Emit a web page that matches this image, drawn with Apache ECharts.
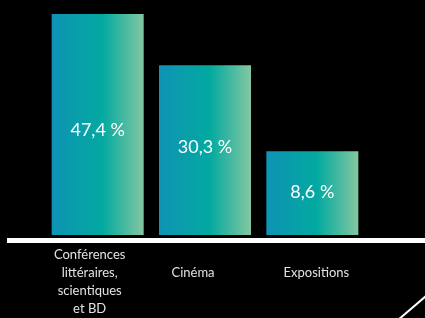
<!DOCTYPE html>
<html>
<head>
<meta charset="utf-8">
<script src="https://cdn.jsdelivr.net/npm/echarts@6/dist/echarts.min.js"></script>
<style>
html, body { margin: 0; background: #000; }
#chart { width: 425px; height: 318px; }
</style>
</head>
<body>
<div id="chart"></div>
<script>
// categories as they appear on the slide (the "fi" ligature got lost there)
var categories = ['Conférences\nlittéraires,\nscientiques\net BD', 'Cinéma', 'Expositions'];
var shares = [47.4, 30.3, 8.6];
// bar lengths as drawn, relative to the tallest bar (slide is not to scale)
var barLengths = [100, 76.8, 37.9];

var chart = echarts.init(document.getElementById('chart'));

var barColor = new echarts.graphic.LinearGradient(0, 0, 1, 0, [
  { offset: 0, color: '#0f93b5' },
  { offset: 0.55, color: '#02a9a0' },
  { offset: 1, color: '#84c7a0' }
]);

// single line labels sit on the 2nd line of the 4-line one
var catPadding = [[0, 16, 0, 0], [0, 24, 0, 0], [0, 0, 0, 8]];
var xData = categories.map(function (c, i) {
  return {
    value: c.indexOf('\n') < 0 ? '\n' + c : c,
    textStyle: { padding: catPadding[i] }
  };
});

// value labels are not exactly centred in the bars
var labelOffsets = [[0, 6], [0, -3], [0, -1]];
var barData = barLengths.map(function (v, i) {
  return { value: v, label: { offset: labelOffsets[i] } };
});

var option = {
  backgroundColor: '#000',
  animation: false,
  grid: [
    { left: 44, right: 59, top: 14, bottom: 80 },
    { left: 7, right: 0, top: 0, bottom: 78 }
  ],
  xAxis: [
    {
      type: 'category',
      gridIndex: 0,
      data: xData,
      axisLine: { show: false },
      axisTick: { show: false },
      axisLabel: {
        color: '#e2e2e2',
        fontFamily: 'Lato',
        fontSize: 13,
        lineHeight: 18,
        margin: 11,
        interval: 0
      }
    },
    {
      // the white base line running across the slide
      type: 'value',
      gridIndex: 1,
      min: 0,
      max: 1,
      axisLine: { show: true, lineStyle: { color: '#fff', width: 5, cap: 'butt' } },
      axisTick: { show: false },
      axisLabel: { show: false },
      splitLine: { show: false }
    }
  ],
  yAxis: [
    { type: 'value', gridIndex: 0, min: 0, max: 100, show: false },
    { type: 'value', gridIndex: 1, min: 0, max: 1, show: false }
  ],
  series: [{
    type: 'bar',
    xAxisIndex: 0,
    yAxisIndex: 0,
    data: barData,
    barWidth: 92,
    itemStyle: { color: barColor },
    label: {
      show: true,
      position: 'inside',
      color: '#fff',
      fontFamily: 'Lato',
      fontSize: 18,
      formatter: function (p) {
        return String(shares[p.dataIndex]).replace('.', ',') + ' %';
      }
    }
  }],
  graphic: [{
    type: 'line',
    shape: { x1: 426, y1: 296, x2: 398, y2: 320 },
    style: { stroke: '#fff', lineWidth: 2 }
  }]
};

chart.setOption(option);
</script>
</body>
</html>
